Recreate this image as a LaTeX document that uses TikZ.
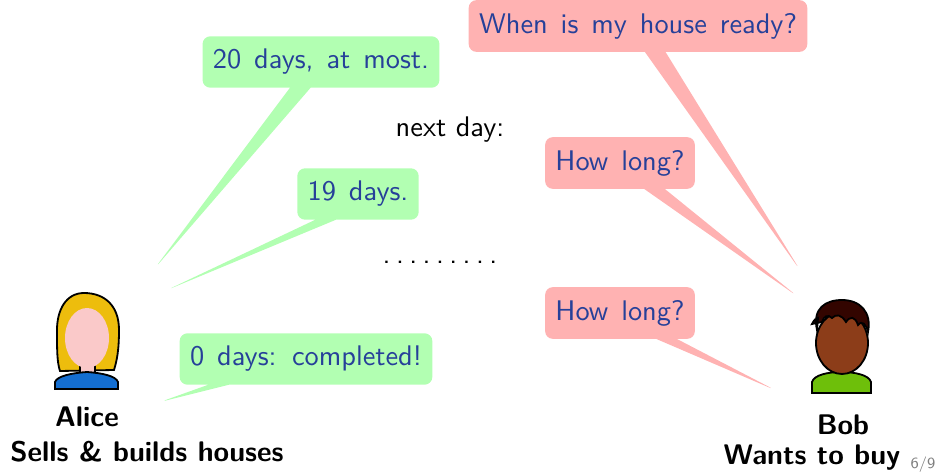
\documentclass[tikz,border=0pt,11pt]{standalone}
\usepackage{fontspec}
\usetikzlibrary{shapes.callouts,positioning}

\definecolor{speech}{rgb}{0.15,0.25,0.6}
\definecolor{sellfill}{rgb}{0.7,1,0.7}
\definecolor{buyfill}{rgb}{1,0.7,0.7}
\definecolor{hairblond}{rgb}{0.93,0.74,0.05}
\definecolor{skinpink}{rgb}{0.98,0.79,0.79}
\definecolor{shirtblue}{rgb}{0.08,0.43,0.82}
\definecolor{skinbrown}{rgb}{0.55,0.24,0.1}
\definecolor{neckbrown}{rgb}{0.62,0.27,0.08}
\definecolor{hairdark}{rgb}{0.2,0.02,0}
\definecolor{shirtgreen}{rgb}{0.43,0.75,0.04}

% wider word spaces inside the speech bubbles
\newcommand\bubblespacing{\spaceskip=5pt\relax\xspaceskip=6pt\relax}

\begin{document}
\begin{tikzpicture}[
  % one unit is one pixel of the slide, y pointing down
  x=0.01357cm, y=-0.01357cm,
  every node/.style={font=\sffamily},
  bubble/.style={rectangle callout, rounded corners=3pt, inner xsep=4pt, inner ysep=5pt,
    font=\sffamily\bubblespacing,
    text=speech, callout pointer width=0.28cm},
  sell/.style={bubble, fill=sellfill},
  buy/.style={bubble, fill=buyfill},
  person/.style={font=\sffamily\bfseries, align=center},
  outline/.style={draw=black, line width=0.7pt}
]
\useasboundingbox (0,0) rectangle (943,474);

% --- ALICE ---
\draw[outline, fill=hairblond] (84,293) .. controls (66,293) and (57,310) .. (57,330)
  .. controls (57,350) and (57,362) .. (60,371) -- (114,370)
  .. controls (117,360) and (119,350) .. (119,330)
  .. controls (119,305) and (104,293) .. (84,293) -- cycle;
\draw[outline, fill=skinpink] (80,352) rectangle (95,376);
\draw[outline, fill=shirtblue] (55,389) -- (55,382) .. controls (57,376) and (72,373) .. (87,372)
  .. controls (102,373) and (116,376) .. (118,382) -- (118,389) -- cycle;
\fill[skinpink] (87,338) ellipse [x radius=22, y radius=30];
\fill[hairblond] (66,312) .. controls (72,300) and (86,300) .. (92,308)
  .. controls (84,306) and (74,308) .. (66,318) -- cycle;
\fill[hairblond] (106,318) .. controls (112,332) and (110,350) .. (104,360)
  .. controls (112,360) and (116,352) .. (117,340) -- (114,318) -- cycle;
\node[minimum width=70*0.01357cm, minimum height=100*0.01357cm] (alice) at (87,341) {};

% --- BOB ---
\draw[outline, fill=neckbrown] (832,356) rectangle (851,378);
\draw[outline, fill=shirtgreen] (812,393) -- (812,382) .. controls (814,375) and (828,372) .. (841,372)
  .. controls (855,372) and (869,375) .. (871,382) -- (871,393) -- cycle;
\draw[outline, fill=skinbrown] (842,343) ellipse [x radius=26, y radius=31];
\draw[outline, fill=hairdark] (817,330) .. controls (812,308) and (826,300) .. (842,300)
  .. controls (860,300) and (872,312) .. (868,332)
  .. controls (866,324) and (862,320) .. (858,325)
  .. controls (855,316) and (850,316) .. (846,322)
  .. controls (841,314) and (836,314) .. (832,318)
  .. controls (828,314) and (824,316) .. (822,322) -- (812,324)
  .. controls (814,320) and (816,318) .. (818,318) -- cycle;
\node[minimum width=60*0.01357cm, minimum height=95*0.01357cm] (bob) at (841,345) {};

% --- NAMES ---
\node[person] (alicename) at (87,417) {Alice};
\node[person] (alicerole) at (147,452) {Sells \& builds houses};
\node[person] (bobname) at (843,425) {Bob};
\node[person] (bobrole) at (812,458) {Wants to buy};
\node[font=\sffamily\tiny, text=gray] (page) at (923,465) {6/9};

% --- WHERE THE POINTERS END ---
\coordinate (alice-hi) at (155,268);
\coordinate (alice-mid) at (167,290);
\coordinate (alice-lo) at (160,402);
\coordinate (bob-hi) at (800,270);
\coordinate (bob-mid) at (797,296);
\coordinate (bob-lo) at (775,390);

% --- DIALOGUE ---
\node[buy, callout absolute pointer={(bob-hi)}] (ready) at (638,26) {When is my house ready?};
\node[sell, callout absolute pointer={(alice-hi)}] (most) at (321,62) {20 days, at most.};
\node (nextday) at (450,130) {next day:};
\node[buy, callout absolute pointer={(bob-mid)}] (long1) at (620,163) {How long?};
\node[sell, callout absolute pointer={(alice-mid)}] (nineteen) at (358,194) {19 days.};
\node (dots) at (440,262) {.\hspace{2.1pt}.\hspace{2.1pt}.\hspace{2.1pt}.\hspace{2.1pt}.\hspace{2.1pt}.\hspace{2.1pt}.\hspace{2.1pt}.\hspace{2.1pt}.};
\node[buy, callout absolute pointer={(bob-lo)}] (long2) at (620,313) {How long?};
\node[sell, callout absolute pointer={(alice-lo)}] (done) at (306,359) {0 days: completed!};

\end{tikzpicture}
\end{document}
